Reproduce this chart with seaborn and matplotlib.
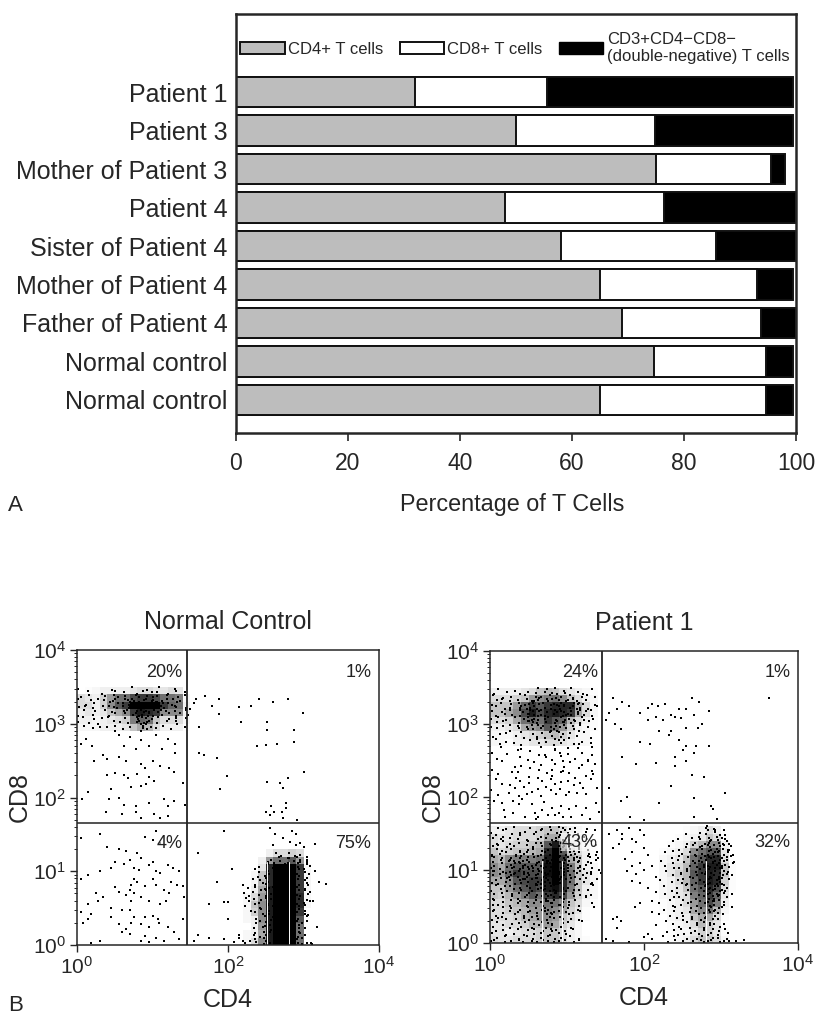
import numpy as np
import pandas as pd
import seaborn as sns
import matplotlib.pyplot as plt
from matplotlib.patches import Patch

sns.set_theme(style="ticks")
plt.rcParams['font.family'] = ['Liberation Sans', 'DejaVu Sans']

# panel A, percent of T cells
groups = ['Patient 1', 'Patient 3', 'Mother of Patient 3', 'Patient 4', 'Sister of Patient 4',
          'Mother of Patient 4', 'Father of Patient 4', 'Normal control', 'Normal control']
cd4 = [32, 50, 75, 48, 58, 65, 69, 74.7, 65]
cd8 = [23.5, 24.8, 20.5, 28.5, 27.7, 28, 24.7, 20, 29.7]
dn = [44, 24.7, 2.5, 23.5, 14.3, 6.5, 6.3, 4.8, 4.8]

# panel B, everything in log10 units
nc_quadrants = ['20%', '1%', '4%', '75%']
p1_quadrants = ['24%', '1%', '43%', '32%']

nc_top_x = [0.05, 0.15, 0.25, 0.35, 0.45, 0.55, 0.65, 0.75, 0.85, 0.95, 1.05, 1.15, 1.25, 1.35, 1.45]
nc_top_y = [3.45, 3.35, 3.25, 3.15, 3.05, 2.95]
nc_top = [[0, .02, .05, .1, .1, .1, .1, .15, .2, .2, .15, .15, .2, .15, 0],
          [.2, .15, .1, .25, .45, .6, .6, .75, .8, .8, .75, .6, .6, .55, .05],
          [.2, .2, .1, .25, .5, .7, .8, 1, 1, 1, 1, .8, .65, .6, .1],
          [.1, .15, .1, .15, .3, .4, .5, .8, .9, .85, .8, .5, .5, .5, .1],
          [.1, .1, .05, .1, .15, .2, .25, .55, .65, .6, .3, .2, .2, .2, .05],
          [.05, .05, .05, .1, .1, .1, .15, .3, .4, .35, .2, .1, .1, .1, .02]]

nc_cd4_x = [2.25, 2.35, 2.45, 2.55, 2.65, 2.75, 2.85, 2.95, 3.05]
nc_cd4_y = [1.25, 1.15, 1.05, .95, .85, .75, .65, .55, .45, .35, .25, .15, .05]
nc_cd4 = [[0, 0, 0, .1, .2, .2, .25, .2, 0],
          [0, 0, .1, .45, .6, .6, .7, .45, 0],
          [0, 0, .15, .85, 1, 1, 1, .8, .05],
          [0, .05, .3, .85, 1, 1, 1, .8, .05],
          [0, .05, .35, .85, 1, 1, 1, .8, .05],
          [0, .1, .4, .9, 1, 1, 1, .8, .05],
          [.05, .2, .45, .9, 1, 1, 1, .85, .05],
          [.05, .3, .5, .9, 1, 1, 1, .85, .05],
          [.05, .25, .5, .9, 1, 1, 1, .8, 0],
          [.05, .1, .5, .9, 1, 1, 1, .7, 0],
          [0, .1, .45, .9, 1, 1, 1, .6, 0],
          [.05, .1, .4, .9, 1, 1, 1, .6, 0],
          [.05, .2, .5, .9, 1, 1, 1, .6, 0]]

nc_dots = [(1.57, 3.33), (1.69, 3.37), (1.88, 3.34), (1.79, 3.24), (2.15, 3.23), (2.31, 3.24), (2.41, 3.33),
           (2.59, 3.3), (2.8, 3.34), (2.99, 3.15), (1.88, 3.13), (2.17, 3.02), (2.52, 3.02), (2.88, 2.91),
           (2.52, 2.91), (1.62, 2.96), (2.39, 2.7), (2.5, 2.71), (2.65, 2.73), (2.87, 2.75), (1.62, 2.61),
           (1.68, 2.58), (1.86, 2.54), (3.0, 2.35), (1.99, 2.29), (2.51, 2.21), (2.69, 2.2), (2.79, 2.26),
           (1.9, 2.12), (2.73, 2.13), (2.77, 1.92), (2.57, 1.88), (2.5, 1.8), (2.55, 1.76), (2.61, 1.8),
           (2.72, 1.81), (2.77, 1.86), (2.73, 1.72), (2.92, 1.7), (1.5, 3.2), (1.55, 3.28), (1.47, 3.12),
           (0.3, 2.95), (0.12, 2.8), (0.05, 2.72), (0.2, 2.7), (0.55, 2.85), (0.7, 2.82), (0.85, 2.78),
           (1.05, 2.85), (1.2, 2.8), (1.3, 2.72), (0.62, 2.7), (0.78, 2.66), (0.95, 2.7), (1.12, 2.66),
           (0.35, 2.58), (0.22, 2.5), (0.4, 2.52), (0.55, 2.55), (0.65, 2.5), (0.85, 2.45), (0.9, 2.4),
           (1.0, 2.5), (1.1, 2.43), (1.22, 2.4), (1.28, 2.34), (0.5, 2.33), (0.62, 2.3), (0.68, 2.27),
           (0.8, 2.32), (0.95, 2.28), (1.02, 2.22), (0.72, 2.14), (0.85, 2.15), (0.92, 2.18), (0.45, 2.12),
           (0.55, 2.0), (0.42, 1.98), (0.62, 1.9), (0.78, 1.88), (0.95, 1.93), (1.15, 1.98), (1.2, 1.88),
           (1.28, 1.95), (0.38, 1.8), (0.6, 1.78), (0.78, 1.8), (1.02, 1.78), (1.1, 1.72), (1.2, 1.75),
           (0.85, 1.72), (0.15, 2.08), (1.4, 2.2), (1.43, 1.9), (0.06, 1.98), (0.4, 2.3), (1.3, 2.6),
           (1.05, 1.55), (0.9, 1.47), (1.0, 1.42), (1.1, 1.38), (0.3, 1.5), (0.05, 1.45), (0.4, 1.33),
           (0.55, 1.3), (0.65, 1.27), (0.8, 1.25), (0.85, 1.18), (0.7, 1.15), (0.5, 1.13), (0.45, 1.05),
           (0.3, 1.0), (0.15, 0.95), (0.05, 0.9), (0.62, 1.1), (0.75, 1.05), (0.82, 1.02), (0.95, 1.08),
           (1.0, 1.12), (1.05, 1.0), (1.1, 0.98), (1.2, 1.08), (1.27, 1.05), (1.35, 1.0), (1.4, 0.8),
           (0.75, 0.9), (0.8, 0.85), (0.72, 0.82), (0.9, 0.8), (1.0, 0.9), (1.05, 0.82), (1.15, 0.75),
           (1.25, 0.85), (1.32, 0.82), (1.22, 0.7), (1.42, 0.65), (0.7, 0.75), (0.75, 0.7), (0.65, 0.68),
           (0.55, 0.72), (0.5, 0.78), (0.35, 0.65), (0.25, 0.7), (0.28, 0.6), (0.15, 0.55), (0.85, 0.65),
           (0.95, 0.6), (1.1, 0.55), (1.18, 0.6), (0.45, 0.5), (0.6, 0.47), (0.72, 0.6), (0.05, 0.45),
           (0.15, 0.35), (0.18, 0.42), (0.08, 0.3), (0.45, 0.38), (0.7, 0.48), (0.75, 0.38), (0.9, 0.38),
           (1.0, 0.4), (1.07, 0.35), (0.72, 0.3), (0.65, 0.22), (0.55, 0.28), (0.85, 0.28), (0.95, 0.25),
           (1.08, 0.3), (1.2, 0.25), (0.6, 0.18), (0.7, 0.15), (0.9, 0.12), (0.85, 0.05), (1.05, 0.1),
           (1.15, 0.05), (1.28, 0.18), (1.35, 0.08), (0.3, 0.05), (0.18, 0.03), (0.95, 0.04), (1.4, 0.35),
           (1.6, 1.25), (1.95, 1.55), (2.55, 1.58), (2.62, 1.5), (2.73, 1.45), (2.85, 1.55), (2.9, 1.5),
           (2.82, 1.4), (2.6, 1.35), (2.95, 1.38), (2.9, 1.35), (3.0, 1.33), (3.15, 1.37), (2.05, 1.03),
           (1.85, 0.85), (2.2, 0.82), (3.15, 1.0), (3.2, 0.85), (3.3, 0.83), (3.05, 1.15), (1.75, 0.55),
           (2.0, 0.58), (1.95, 0.58), (2.0, 0.35), (1.6, 0.13), (1.75, 0.1), (1.95, 0.08), (2.15, 0.1),
           (2.08, 0.04), (2.2, 0.05), (2.15, 0.13), (1.55, 0.05), (3.1, 0.03), (3.12, 0.6), (3.18, 0.25)]

# dots of the crowded clouds, read row by row, one character every 0.05 decade,
# the digit is where in the cell it sits (1 top left .. 9 bottom right)
nc_top_mask = ["4........7....2...8..3...6...",
               "..3...8...1.5..9.2.6.4..7.1.5",
               ".7.1...5.39.6..28.5.74.3..9.2",
               "1..6.2.4.81.3527.6194.83.2.7.",
               "..8.5...3.6.49172.58316.472..",
               "5.1.7.3.268.194738265917.34.9",
               ".3..6..2.7..51.639472815.6..3",
               "7...4...8.1.3.6284917.5.2.71.",
               ".2..8.5.1...6..37149.2..8.4.6",
               "4..7.....3.5.8.62951.7.3..1..",
               ".6...2.9..4...7.3518..6...2.8",
               "....1.....7.4...925.3...6...."]

nc_cd4_mask = ["........3.7.19.4..",
               ".......8.2.64.173.",
               "......5.73.9.2846.",
               "....7.2.6.41958.36",
               "...4..83.592716.4.",
               "....1.9.3852647.28",
               "...6.37.1948253.9.",
               "..2.5.8.7316942.5.",
               "...7.14.6285319.37",
               ".4.1.963.274851.8.",
               "7.5.3.1.9462873.26",
               ".8..4.72.5139647.1",
               "3.6.9.15.728346.9.",
               ".2.74.8.6193527.43",
               "5...8.26.941736.2.",
               "..7.3.9.5286143.8.",
               "...1.46.7392851.57",
               "...8.3.64971528.3.",
               "....5.72.186394.6.",
               "...2.9.4.7351862..",
               "..6..1.83924716.5.",
               "...7.5.42.938167..",
               "..3.8.1.6725948.2.",
               ".9.4.27.31856942..",
               "5..2.8.4963172586.7"]

p1_top_x = [.05, .15, .25, .35, .45, .55, .65, .75, .85, .95, 1.05, 1.15, 1.25, 1.35]
p1_top_y = [3.45, 3.35, 3.25, 3.15, 3.05, 2.95, 2.85, 2.75]
p1_top = [[.1, .1, .1, .1, .15, .2, .3, .35, .3, .2, .15, .1, .05, .02],
          [.2, .2, .2, .25, .3, .45, .5, .55, .6, .5, .3, .2, .1, .05],
          [.3, .3, .3, .45, .65, .8, .7, .8, .85, .85, .85, .4, .2, .05],
          [.3, .3, .4, .5, .75, .9, .75, .85, .9, .85, .8, .4, .2, .05],
          [.2, .2, .25, .4, .6, .65, .6, .8, .7, .65, .35, .2, .1, .02],
          [.1, .1, .15, .2, .4, .45, .5, .7, .6, .45, .25, .1, .05, .02],
          [.05, .05, .05, .1, .15, .2, .25, .3, .35, .25, .15, .05, .05, 0],
          [.05, .05, .02, .1, .1, .15, .15, .2, .2, .15, .1, .05, .05, 0]]

p1_low_x = p1_top_x
p1_low_y = [1.55, 1.45, 1.35, 1.25, 1.15, 1.05, .95, .85, .75, .65, .55, .45, .35, .25, .15, .05]
p1_low = [[.1, .1, .15, .2, .2, .2, .25, .3, .3, .2, .1, .05, .02, 0],
          [.2, .15, .15, .2, .2, .2, .25, .4, .4, .25, .15, .1, .02, 0],
          [.2, .15, .2, .25, .25, .3, .35, .7, .9, .6, .2, .15, .05, .02],
          [.3, .2, .25, .3, .3, .35, .4, .85, 1, .7, .3, .2, .1, .02],
          [.4, .35, .5, .55, .55, .55, .6, .9, 1, .8, .4, .3, .1, .02],
          [.5, .4, .6, .7, .7, .7, .7, .95, 1, .85, .55, .3, .1, .05],
          [.5, .45, .65, .8, .75, .75, .75, .95, 1, .85, .6, .3, .15, .05],
          [.4, .4, .5, .7, .75, .8, .8, .9, 1, .85, .6, .3, .15, .05],
          [.3, .3, .45, .6, .7, .8, .75, .9, .95, .85, .55, .3, .1, .05],
          [.3, .25, .35, .45, .55, .7, .6, .8, .85, .75, .45, .25, .1, .05],
          [.2, .2, .3, .35, .4, .5, .5, .6, .6, .5, .3, .2, .05, .02],
          [.2, .2, .25, .3, .35, .45, .45, .55, .5, .4, .25, .15, .02, 0],
          [.2, .2, .2, .25, .35, .4, .45, .5, .45, .3, .2, .1, .02, 0],
          [.15, .15, .2, .2, .25, .35, .35, .45, .4, .25, .15, .05, 0, 0],
          [.15, .15, .1, .15, .2, .2, .25, .3, .3, .2, .1, .05, 0, 0],
          [.2, .15, .15, .2, .2, .2, .25, .3, .3, .2, .1, .05, .02, 0]]

p1_cd4_x = [2.25, 2.35, 2.45, 2.55, 2.65, 2.75, 2.85, 2.95, 3.05, 3.15]
p1_cd4_y = p1_low_y
p1_cd4 = [[0, 0, 0, .02, .05, .1, .2, .1, 0, 0],
          [0, 0, .02, .05, .1, .15, .3, .2, .02, 0],
          [0, .02, .05, .1, .25, .35, .5, .5, .1, 0],
          [.02, .05, .1, .2, .5, .6, .7, .7, .15, 0],
          [.05, .1, .15, .3, .6, .7, .85, .85, .2, 0],
          [.05, .15, .2, .35, .65, .8, .9, .9, .3, .02],
          [.05, .15, .25, .35, .7, .8, .9, .85, .3, .02],
          [.05, .1, .2, .35, .65, .8, .9, .85, .25, .02],
          [.05, .1, .15, .3, .6, .7, .85, .75, .2, .02],
          [.05, .1, .15, .2, .55, .65, .8, .65, .15, 0],
          [.02, .05, .1, .2, .45, .6, .75, .55, .1, 0],
          [.02, .05, .1, .15, .4, .5, .6, .35, .05, 0],
          [0, .05, .1, .1, .3, .4, .4, .2, .02, 0],
          [0, .02, .05, .1, .2, .35, .25, .15, 0, 0],
          [0, .02, .05, .05, .15, .25, .25, .15, .02, 0],
          [0, .02, .05, .1, .2, .3, .3, .2, .05, 0]]

p1_dots = [(1.6, 3.36), (1.72, 3.3), (1.8, 3.25), (1.55, 3.15), (1.65, 3.2), (1.5, 3.05), (1.62, 3.0), (1.7, 2.93),
           (1.95, 3.15), (2.05, 3.22), (2.1, 3.28), (2.18, 3.24), (2.27, 3.27), (2.35, 3.12), (2.45, 3.2),
           (2.55, 3.2), (2.62, 3.35), (2.72, 3.3), (2.85, 3.18), (2.4, 3.1), (2.15, 3.1), (2.05, 3.05),
           (2.25, 3.05), (2.48, 3.08), (2.65, 3.12), (2.7, 2.95), (2.55, 2.94), (2.75, 3.0), (2.85, 2.7),
           (2.45, 2.78), (2.35, 2.9), (2.2, 2.9), (2.32, 2.85), (2.55, 2.7), (2.65, 2.6), (2.68, 2.7),
           (1.95, 2.75), (2.08, 2.72), (2.5, 2.65), (2.4, 2.55), (2.55, 2.5), (1.72, 2.55), (1.9, 2.45),
           (2.15, 2.47), (2.4, 2.42), (2.62, 2.3), (2.78, 2.27), (2.35, 2.15), (3.05, 2.05), (1.55, 2.13),
           (1.7, 1.95), (1.78, 2.0), (2.2, 1.92), (2.65, 1.98), (2.87, 1.88), (2.9, 1.83), (1.82, 1.73),
           (2.0, 1.68), (2.65, 1.72), (2.95, 1.7), (3.62, 3.35), (2.82, 1.6), (2.92, 1.55),
           (0.18, 1.82), (0.3, 1.78), (0.45, 1.72), (0.58, 1.78), (0.62, 1.72), (0.68, 1.82), (0.75, 1.76),
           (0.85, 1.75), (0.9, 1.78), (0.95, 1.72), (0.6, 1.7), (1.05, 1.72), (1.2, 1.75), (1.3, 1.7),
           (0.2, 1.72), (1.42, 1.8), (0.05, 1.95), (0.15, 1.92), (0.3, 1.95), (0.38, 1.9), (0.42, 1.97),
           (0.55, 1.9), (0.7, 1.93), (0.8, 1.85), (0.92, 1.88), (1.02, 1.83), (1.12, 1.88), (1.25, 1.85),
           (1.38, 1.92), (1.38, 1.2), (1.3, 1.18), (1.42, 1.0), (1.33, 0.82), (1.25, 0.65), (1.35, 0.5),
           (1.2, 0.3), (1.55, 1.5), (1.65, 1.55), (1.72, 1.5), (1.8, 1.58), (1.85, 1.42), (1.95, 1.55),
           (2.0, 1.48), (1.6, 1.3), (1.68, 1.35), (1.72, 1.42), (1.85, 1.25), (1.9, 1.38), (2.0, 1.3),
           (2.05, 1.2), (1.75, 1.15), (1.85, 1.05), (1.95, 1.1), (1.78, 0.98), (1.9, 0.95), (2.0, 1.0),
           (2.1, 1.05), (1.85, 0.85), (1.95, 0.82), (2.15, 0.9), (2.05, 0.75), (2.15, 0.7), (2.2, 0.55),
           (2.1, 0.58), (1.95, 0.55), (1.88, 0.5), (2.1, 0.42), (2.2, 0.4), (2.28, 0.3), (2.15, 0.25),
           (1.65, 0.35), (1.7, 0.3), (1.65, 0.2), (1.6, 0.33), (2.05, 0.12), (2.1, 0.05), (2.0, 0.08),
           (2.25, 0.1), (2.3, 0.15), (1.5, 0.05), (1.6, 0.03), (1.8, 0.02), (3.2, 0.03), (3.3, 0.04), (3.15, 1.1)]

p1_top_mask = ["..4...8.....2.6.3..7.1....5.",
               ".7..2..9.3.6..1.48.5..3.7...",
               "3..8.5...1.694.2.75.38.6.1.4",
               ".6.1.7.4.2985.3716.9428.6...",
               "8.3..5.2.74163.95827.3614..7",
               ".2.9.4.618527.49.3716285.8.3",
               "5..7.1.38.24619.3857.4926.1.",
               ".8.3.6.9.315847.2.96143.5.8",
               "4.1.7.2.63958.41.72859.38.6.",
               ".6.2...8.3147.5.9264.718.3..",
               "7..5.1.4.83.26.9.471.5.2.8..",
               ".3...7.2.6.4.1.958.3.6.7...4",
               "..8.4...1..7.5.2.39.6...2...",
               "6.....3.9...4.7.1.5.8.2...7.",
               ".2..7.....5.1.8.36.4...9....",
               "..5...1.7...3...8.2..6.4..1."]

p1_mid_mask = ["..3.....7....1..9...4.6...2.",
               "8......1..5.....3.7....9....",
               "....2.......6.4...8.1.....5.",
               ".6.....3.9....2.7.....4..8..",
               "...1.......5....9.3.6....2.7",
               "......8.4....1.....7...3....",
               "5.........2.6...4.9....1..8.",
               "..7..3.1......6...2.5.....9.",
               "......9...4.8...1.....7.3...",
               ".2.....6.....5.3..8.4.....1.",
               "...4.7....1.....6....9.2....",
               "......5.3...8.2...7.....4..6",
               "1...9.....6....3....5.8.....",
               "..4....8.2...7...1.6....3..."]

p1_low_mask = ["..4.7.1...5..8.2.36.9.4..7..",
               "7..2...9.4.6.1.3.8527.4.6..1",
               ".5.8.3.6...2.7.1.94.6.3.8...",
               "3.6..1.4.8..5.2.71938.6..4..",
               ".9.2.7.5.3.6.4.8.1527.3.9.1.",
               "6.1.8.4..2.7.5.3.69481.7...2",
               ".3.7.2.9.6.1.8.4.52639.1.5..",
               "8.5.1.9362.4.718.5293741.6.3",
               "24.7.83916.52.8.36174958.2..7",
               "9.3.6148527.936418725394.8.2",
               ".7.1.52384961732859147.86.1",
               "4.8.26195374862391574.628.5",
               "31.5748269.1357286941382.74.9",
               "6.2.95173846295173846.7.4.1.",
               ".83.27.9546318275946.1.53..6",
               "5.7.1.8.43.92715864.3.8.2.7",
               ".2.6.4.9.58317462.9.7.1...3.",
               "7.3.8.1.4.9.26185739.6.4.5..",
               ".4.1.6.2.81.7.593164.2.8..7.",
               "9..5.3.7.4.6.2815.47.3..6...",
               ".1.8.2.6.9.3.7542.9.8.1.....",
               "6.4..7.1.8.2.9.3164.5..7..2.",
               ".7.2.5.9.3.6.8471.3.4.9.....",
               "3..8.1.4.62.7.1953.6.8.2....",
               ".5.7..2.6.9.4.381.7.2.......",
               "8.1.4.6.3.7.5.9.2.6..4.7....",
               ".3...9.5.1.8.2.47.6.1.......",
               "6..2.7..4.9.3.8.1.5..7......",
               ".8.5...1.6.2.9.374.8.2......",
               "2...7.4.9..5.1.8.3.6........",
               ".6.3...8.2.7.4.19.5.3..7....",
               "41.9.5.28.6.73.486.2.9.1...."]

p1_cd4_mask = ["............4.7.....",
               "..........8.2.5.3...",
               "......3...7.1.96.4..",
               "....6...2.5.38.714..",
               "...2...7.4.961.5827.",
               "..5...9.3.8427163.5.",
               "...8.4...6.19538264.",
               ".2...6.3.7.4862193.7",
               "...7.1.5.2936841752.",
               "5...3.8.6.47195362.8",
               ".8.2...9.1.5836274..",
               "...6.4.7.38291564.1.",
               ".3...8.1.5.7482936..",
               "...5.2.9.6.31748526.",
               "7...9.4.3.8.62951.4.",
               "...1.6.7.5.284937..",
               ".4..8.3.2.96175438..",
               "...7...5.1.8362947..",
               ".5..2.9.4.7.51683.6.",
               "...6.4...8.29371.5..",
               "..3...1.7.5.86429..",
               "...8.5.2.9.3174.6...",
               ".7..1...4.6.92851.3.",
               "...3.9.6.2.8.417....",
               "..6...4.8.1.7.5.2...",
               "....2.7.5.93.6.4....",
               "...8...1.6.2.47.9..",
               ".....4.9.3.8.1.6....",
               "...6.2...7.5.3.8.1..",
               "....9.5.1.4.82.7.3..",
               "...3...7.9.1.6.4.8..",
               "..7.1.4.6.3852.96.4"]

# where the cytometer left its white stripes
nc_gap_x = [2.52, 2.81]
p1_gap_x = [0.68, 0.94, 2.81]
nc_gates = (1.46, 1.65)
p1_gates = (1.45, 1.65)


def cells(xs, ys, grid):
    d = pd.DataFrame(grid, index=ys, columns=xs).stack().reset_index()
    d.columns = ['y', 'x', 'w']
    return d[d['w'] > 0]


def mask_dots(rows, x0, y0):
    step = 0.05
    out = []
    for i, row in enumerate(rows):
        for j, ch in enumerate(row):
            if ch != '.':
                k = int(ch) - 1
                out.append((x0 + j * step + (k % 3 - 1) * step / 3, y0 - i * step - (k // 3 - 1) * step / 3))
    return out


def flow_panel(ax, blocks, dots, gates, gap_x, pcts, title):
    dens = pd.concat([cells(*b) for b in blocks])
    sns.histplot(x=10 ** dens['x'], y=10 ** dens['y'], weights=dens['w'] ** 0.9, binwidth=0.1,
                 binrange=((0, 4), (0, 4)), log_scale=True, cmap='Greys', vmin=0, vmax=1, ax=ax)
    dots = pd.DataFrame(dots, columns=['x', 'y'])
    sns.scatterplot(x=10 ** dots['x'], y=10 ** dots['y'], color='black', s=2.6, marker='s',
                    linewidth=0, ax=ax)
    for g in gap_x:
        ax.axvline(10 ** g, ymax=0.28, color='white', lw=0.7)
    ax.axvline(10 ** gates[0], color='#222222', lw=1.3)
    ax.axhline(10 ** gates[1], color='#222222', lw=1.1)
    ax.set_xlim(1, 1e4)
    ax.set_ylim(1, 1e4)
    ax.set_xlabel('CD4', fontsize=18, labelpad=7)
    ax.set_ylabel('CD8', fontsize=18, labelpad=1)
    ax.set_title(title, fontsize=18, pad=15)
    ax.tick_params(which='major', length=5, width=1, labelsize=15, pad=3)
    ax.tick_params(which='minor', length=2.5, width=0.7)
    for s in ax.spines.values():
        s.set_linewidth(1.1)
    spots = [(1.4, 3.7), (3.9, 3.7), (1.4, 1.38), (3.9, 1.38)]
    for (sx, sy), p in zip(spots, pcts):
        ax.text(10 ** sx, 10 ** sy, p, ha='right', va='center', fontsize=13, color='#222222',
                bbox=dict(facecolor='white', edgecolor='none', alpha=0.6, pad=0.5))


fig = plt.figure(figsize=(8.15, 10.15), dpi=100)
W, H = 815, 1015


def px_axes(left, top, right, bottom):
    return fig.add_axes([left / W, 1 - bottom / H, (right - left) / W, (bottom - top) / H])


ax = px_axes(236, 14, 796, 433)
df = pd.DataFrame({'row': range(len(groups)), 'cd4': cd4, 'cd8': cd8, 'dn': dn})
df['cd8_end'] = df['cd4'] + df['cd8']
df['dn_end'] = df['cd8_end'] + df['dn']
for col, c in [('dn_end', 'black'), ('cd8_end', 'white'), ('cd4', '#bdbdbd')]:
    sns.barplot(data=df, y='row', x=col, orient='h', color=c, saturation=1, width=0.8, edgecolor='#111111',
                linewidth=1.4, ax=ax)
ax.set_xlim(0, 100)
ax.set_ylim(8.86, -2.03)
ax.set_yticks(range(len(groups)), groups)
ax.set_xlabel('Percentage of T Cells', fontsize=16.8, labelpad=13, x=0.494)
ax.set_ylabel('')
ax.set_xticks([0, 20, 40, 60, 80, 100])
ax.tick_params(axis='x', length=6, width=1.2, labelsize=16.5, pad=8)
ax.tick_params(axis='y', length=0, labelsize=18, pad=6)
for s in ax.spines.values():
    s.set_linewidth(1.8)
handles = [Patch(facecolor='#bdbdbd', edgecolor='#111111', linewidth=1.4),
           Patch(facecolor='white', edgecolor='#111111', linewidth=1.4),
           Patch(facecolor='black', edgecolor='black')]
labels = ['CD4+ T cells', 'CD8+ T cells', 'CD3+CD4\u2212CD8\u2212\n(double-negative) T cells']
ax.legend(handles, labels, ncol=3, frameon=False, fontsize=12, loc='upper left',
          bbox_to_anchor=(-0.001, 0.97), handlelength=2.65, handleheight=0.8, handletextpad=0.2,
          columnspacing=1.0, borderpad=0.3, borderaxespad=0, labelspacing=0)

left = px_axes(77, 650, 379, 945)
nc_marks = nc_dots + mask_dots(nc_top_mask, 0.025, 3.475) + mask_dots(nc_cd4_mask, 2.225, 1.225)
flow_panel(left, [(nc_top_x, nc_top_y, nc_top), (nc_cd4_x, nc_cd4_y, nc_cd4)], nc_marks, nc_gates,
           nc_gap_x, nc_quadrants, 'Normal Control')
right = px_axes(490, 651, 798, 943)
p1_marks = p1_dots + mask_dots(p1_top_mask, 0.025, 3.475) + mask_dots(p1_mid_mask, 0.025, 2.675) \
    + mask_dots(p1_low_mask, 0.025, 1.575) + mask_dots(p1_cd4_mask, 2.225, 1.575)
flow_panel(right, [(p1_top_x, p1_top_y, p1_top), (p1_low_x, p1_low_y, p1_low), (p1_cd4_x, p1_cd4_y, p1_cd4)],
           p1_marks, p1_gates, p1_gap_x, p1_quadrants, 'Patient 1')

fig.text(8 / W, 1 - 511 / H, 'A', fontsize=16)
fig.text(8 / W, 1 - 1011 / H, 'B', fontsize=16)

fig.savefig('out.png', dpi=100)
